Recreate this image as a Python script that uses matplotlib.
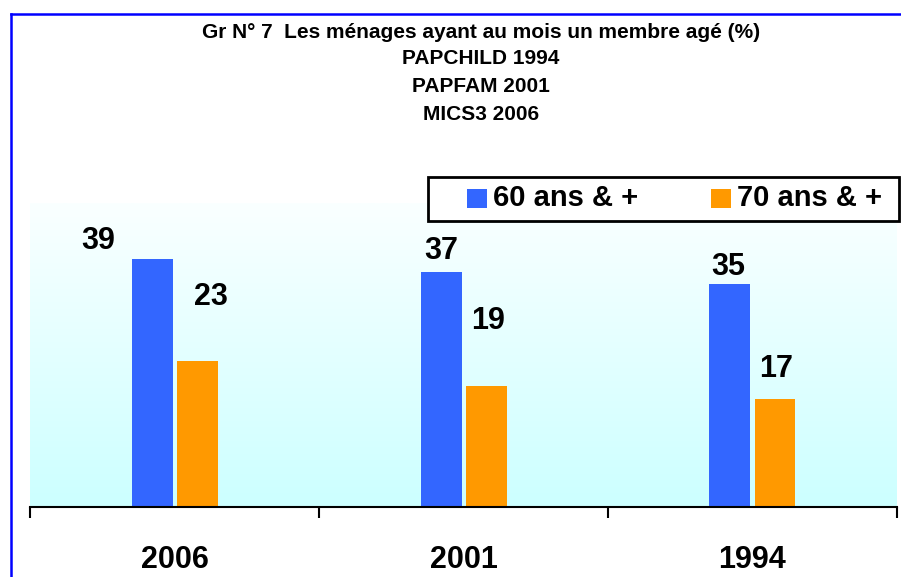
import numpy as np
import matplotlib
matplotlib.use("Agg")
import matplotlib.pyplot as plt
from matplotlib.colors import LinearSegmentedColormap
from matplotlib.lines import Line2D
from matplotlib.patches import Rectangle

# ---- data ----
categories = ["2006", "2001", "1994"]
series_names = ["60 ans & +", "70 ans & +"]
values_60 = [39, 37, 35]
values_70 = [23, 19, 17]
title_lines = ["Gr N° 7  Les ménages ayant au mois un membre agé (%)",
               "PAPCHILD 1994", "PAPFAM 2001", "MICS3 2006"]

# ---- style ----
color_60 = "#3366FF"
color_70 = "#FF9900"
plt.rcParams['font.family'] = ['Liberation Sans', 'DejaVu Sans']
W, H = 901, 577

fig = plt.figure(figsize=(W / 100, H / 100), dpi=100)
fig.patch.set_facecolor("white")
ax = fig.add_axes([30 / W, 1 - 507 / H, 867 / W, 304 / H])

ymax = 47.8
ax.set_xlim(0, 3)
ax.set_ylim(0, ymax)

# gradient background
cmap = LinearSegmentedColormap.from_list("g", ["#CCFFFF", "#FAFFFF"])
ax.imshow(np.linspace(0, 1, 256).reshape(-1, 1), cmap=cmap, origin="lower",
          extent=[0, 3, 0, ymax], aspect="auto", zorder=0)

x = np.arange(len(categories)) + 0.5
bw = 41 / 289
off = 22.5 / 289
ax.bar(x - off, values_60, width=bw, color=color_60, zorder=2)
ax.bar(x + off, values_70, width=bw, color=color_70, zorder=2)

# value labels (placed as in the original)
lab_dx_60 = [-0.265, -0.078, -0.085]
lab_y_60 = [40.6, 39.0, 36.5]
lab_dx_70 = [0.126, 0.085, 0.081]
lab_y_70 = [31.8, 28.0, 20.4]
for i in range(len(categories)):
    ax.text(x[i] + lab_dx_60[i], lab_y_60[i], str(values_60[i]), ha="center",
            va="baseline", fontsize=22, fontweight="bold", zorder=3)
    ax.text(x[i] + lab_dx_70[i], lab_y_70[i], str(values_70[i]), ha="center",
            va="baseline", fontsize=22, fontweight="bold", zorder=3)

for s in ["top", "left", "right"]:
    ax.spines[s].set_visible(False)
ax.spines["bottom"].set_linewidth(1.5)
ax.spines["bottom"].set_zorder(4)
ax.set_yticks([])
ax.set_xticks([0, 1, 2, 3])
ax.set_xticklabels([])
ax.tick_params(axis="x", which="major", length=8, width=1.5, direction="out")
ax.set_xticks(x, minor=True)
ax.set_xticklabels(categories, minor=True, fontsize=22, fontweight="bold")
ax.tick_params(axis="x", which="minor", length=0, pad=27)

# title
title_y = [32, 59, 86, 114]
for t, yy in zip(title_lines, title_y):
    fig.text(481 / W, 1 - yy / H, t, ha="center", va="center",
             fontsize=15, fontweight="bold")

# blue frame
fig.add_artist(Line2D([11 / W, 11 / W], [0, 1 - 14 / H], color="#0000FF", lw=1.8))
fig.add_artist(Line2D([11 / W, 1], [1 - 14 / H, 1 - 14 / H], color="#0000FF", lw=1.8))

# legend box
fig.add_artist(Rectangle((428 / W, 1 - 221 / H), (899 - 428) / W, 44 / H,
                         transform=fig.transFigure, facecolor="white",
                         edgecolor="black", lw=2))
for cx, col, name in [(467, color_60, series_names[0]), (711, color_70, series_names[1])]:
    fig.add_artist(Rectangle((cx / W, 1 - 208 / H), 20 / W, 19 / H,
                             transform=fig.transFigure, facecolor=col, edgecolor="none"))
    fig.text((cx + 26) / W, 1 - 198.5 / H, name, ha="left", va="center",
             fontsize=21, fontweight="bold")

fig.savefig("out.png", dpi=100)
